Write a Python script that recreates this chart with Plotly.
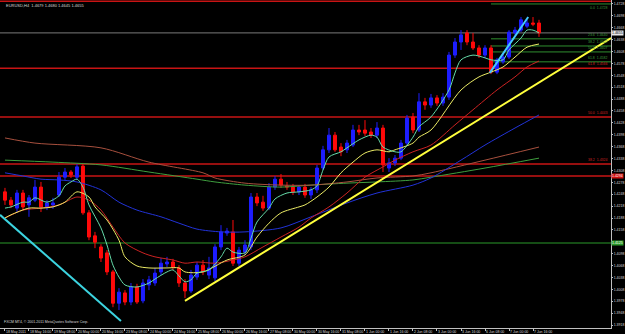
import plotly.graph_objects as go

# ---------------- data (EURUSD H4) ----------------
bar = list(range(90))
opens = [1.4254,1.4233,1.4213,1.4251,1.4221,1.4233,1.4266,1.4216,1.4221,1.4246,
         1.4291,1.4304,1.4291,1.4319,1.4201,1.4143,1.4115,1.4100,1.4052,1.3973,
         1.3999,1.3976,1.4014,1.3979,1.4019,1.4024,1.4052,1.4072,1.4077,1.4062,
         1.4024,1.4004,1.4039,1.4069,1.4044,1.4037,1.4115,1.4150,1.4153,1.4074,
         1.4102,1.4115,1.4241,1.4228,1.4213,1.4266,1.4286,1.4269,1.4266,1.4254,
         1.4266,1.4246,1.4259,1.4314,1.4360,1.4397,1.4367,1.4360,1.4372,1.4410,
         1.4410,1.4405,1.4397,1.4415,1.4314,1.4327,1.4339,1.4377,1.4443,1.4410,
         1.4481,1.4473,1.4491,1.4478,1.4493,1.4599,1.4632,1.4655,1.4632,1.4617,
         1.4599,1.4617,1.4556,1.4582,1.4594,1.4655,1.4662,1.4672,1.4680,1.4680]
highs = [1.4264,1.4241,1.4259,1.4259,1.4246,1.4284,1.4279,1.4233,1.4239,1.4304,
         1.4314,1.4309,1.4324,1.4327,1.4208,1.4153,1.4122,1.4107,1.4057,1.4011,
         1.4006,1.4024,1.4022,1.4034,1.4042,1.4062,1.4087,1.4090,1.4085,1.4069,
         1.4034,1.4057,1.4077,1.4082,1.4090,1.4122,1.4170,1.4163,1.4183,1.4115,
         1.4132,1.4251,1.4251,1.4244,1.4276,1.4294,1.4299,1.4279,1.4274,1.4271,
         1.4274,1.4266,1.4322,1.4370,1.4415,1.4405,1.4377,1.4385,1.4423,1.4423,
         1.4435,1.4415,1.4430,1.4423,1.4339,1.4347,1.4385,1.4448,1.4453,1.4503,
         1.4491,1.4501,1.4498,1.4503,1.4607,1.4642,1.4662,1.4662,1.4655,1.4624,
         1.4624,1.4624,1.4592,1.4602,1.4662,1.4670,1.4695,1.4688,1.4695,1.4688]
lows = [1.4221,1.4213,1.4203,1.4208,1.4191,1.4228,1.4203,1.4208,1.4211,1.4241,
        1.4284,1.4289,1.4284,1.4196,1.4132,1.4112,1.4077,1.4044,1.3963,1.3956,
        1.3968,1.3968,1.3971,1.3973,1.4006,1.4017,1.4044,1.4064,1.4057,1.4014,
        1.3986,1.3999,1.4032,1.4044,1.4034,1.4029,1.4107,1.4143,1.4067,1.4067,
        1.4095,1.4107,1.4218,1.4206,1.4208,1.4259,1.4264,1.4259,1.4246,1.4246,
        1.4239,1.4236,1.4251,1.4309,1.4352,1.4355,1.4344,1.4352,1.4367,1.4397,
        1.4395,1.4390,1.4390,1.4304,1.4304,1.4319,1.4334,1.4370,1.4402,1.4405,
        1.4461,1.4466,1.4471,1.4471,1.4486,1.4592,1.4612,1.4624,1.4612,1.4592,
        1.4592,1.4551,1.4551,1.4577,1.4589,1.4650,1.4657,1.4667,1.4672,1.4645]
closes = [1.4233,1.4221,1.4251,1.4216,1.4239,1.4266,1.4216,1.4226,1.4226,1.4291,
          1.4304,1.4297,1.4317,1.4201,1.4140,1.4127,1.4087,1.4052,1.3973,1.4001,
          1.3976,1.4014,1.3976,1.4024,1.4032,1.4049,1.4074,1.4077,1.4064,1.4024,
          1.4004,1.4044,1.4069,1.4052,1.4062,1.4115,1.4153,1.4155,1.4074,1.4107,
          1.4120,1.4241,1.4226,1.4213,1.4266,1.4286,1.4271,1.4266,1.4254,1.4266,
          1.4246,1.4259,1.4314,1.4360,1.4397,1.4360,1.4355,1.4377,1.4410,1.4405,
          1.4402,1.4397,1.4415,1.4322,1.4327,1.4339,1.4377,1.4440,1.4410,1.4481,
          1.4473,1.4491,1.4478,1.4493,1.4599,1.4632,1.4650,1.4632,1.4617,1.4599,
          1.4617,1.4556,1.4587,1.4594,1.4657,1.4662,1.4688,1.4680,1.4677,1.4655]

# moving averages (bar index, price)
ma_fast_x = [0,1,3,4,5,7,9,10,11,12,13,14,16,17,18,19,20,22,24,25,27,28,29,30,31,32,34,36,37,38,
             40,41,42,44,45,47,49,51,52,53,54,56,57,59,61,62,63,65,66,68,69,71,74,75,76,78,80,81,
             83,84,86,87,88,89]
ma_fast_y = [1.4213,1.4216,1.4228,1.4228,1.4239,1.4228,1.4244,1.4269,1.4279,1.4286,1.4266,1.4221,
             1.4163,1.4120,1.4069,1.4039,1.4019,1.4014,1.4024,1.4034,1.4052,1.4057,1.4042,1.4027,
             1.4032,1.4049,1.4057,1.4090,1.4112,1.4102,1.4100,1.4137,1.4178,1.4213,1.4236,1.4251,
             1.4254,1.4259,1.4269,1.4309,1.4342,1.4355,1.4365,1.4385,1.4397,1.4392,1.4367,1.4355,
             1.4355,1.4392,1.4418,1.4443,1.4511,1.4554,1.4587,1.4599,1.4592,1.4587,1.4587,1.4612,
             1.4642,1.4662,1.4662,1.4655]
ma_yel_x = [0,1,4,6,8,10,12,14,15,17,19,20,22,24,27,29,30,33,37,40,42,44,46,49,50,52,54,56,58,
            60,62,64,65,68,69,71,76,79,81,83,85,87,89]
ma_yel_y = [1.4188,1.4196,1.4213,1.4213,1.4216,1.4228,1.4254,1.4241,1.4216,1.4183,1.4132,1.4090,
            1.4067,1.4062,1.4062,1.4062,1.4052,1.4052,1.4082,1.4095,1.4140,1.4175,1.4201,1.4216,
            1.4221,1.4241,1.4266,1.4302,1.4329,1.4352,1.4360,1.4355,1.4360,1.4377,1.4392,1.4410,
            1.4511,1.4544,1.4556,1.4569,1.4594,1.4619,1.4627]
ma_red_x = [0,3,6,9,12,14,16,18,20,23,25,28,30,32,35,38,40,43,46,49,51,54,57,60,63,65,68,71,
            75,78,82,85,87,89]
ma_red_y = [1.4188,1.4208,1.4213,1.4221,1.4241,1.4233,1.4208,1.4165,1.4125,1.4100,1.4090,1.4082,
            1.4074,1.4077,1.4074,1.4082,1.4090,1.4115,1.4140,1.4165,1.4188,1.4216,1.4251,1.4291,
            1.4317,1.4334,1.4355,1.4372,1.4423,1.4461,1.4511,1.4544,1.4569,1.4584]
ma_blue_x = [0,3,6,9,12,16,19,22,26,29,32,36,40,46,51,57,62,68,71,76,80,85,89]
ma_blue_y = [1.4302,1.4294,1.4286,1.4284,1.4279,1.4259,1.4228,1.4208,1.4191,1.4175,1.4160,1.4153,
             1.4153,1.4163,1.4191,1.4226,1.4251,1.4271,1.4289,1.4334,1.4372,1.4415,1.4448]
ma_brown_x = [0,5,16,24,33,35,40,46,51,57,62,68,71,80,89]
ma_brown_y = [1.4390,1.4377,1.4365,1.4329,1.4302,1.4289,1.4276,1.4271,1.4271,1.4279,1.4289,
              1.4294,1.4302,1.4334,1.4367]
ma_green_x = [0,8,16,24,32,35,40,46,51,57,62,68,71,80,89]
ma_green_y = [1.4334,1.4329,1.4322,1.4304,1.4286,1.4279,1.4271,1.4266,1.4271,1.4276,1.4279,
              1.4284,1.4291,1.4314,1.4339]

# horizontal levels
red_levels = [1.4735, 1.4566, 1.4443, 1.4324, 1.4294]
red_names = ["100.0", "61.8", "50.0", "38.2", ""]
green_level = 1.4125
bid_level = 1.4655
fib2_levels = [1.4728, 1.4640, 1.4622, 1.4607, 1.4582]
fib2_names = ["0.0", "23.6", "38.2", "50.0", "61.8"]
fib2_start = 81

# trend lines (bar, price)
tl_cyan_x = [-0.83, 19.33]
tl_cyan_y = [1.4196, 1.3928]
tl_yellow_x = [30, 101]
tl_yellow_y = [1.3979, 1.4642]
tl_cyan2_x = [80.8, 87.2]
tl_cyan2_y = [1.4554, 1.4695]

# axes
x_tick_bars = list(range(0, 89, 4))
x_tick_labels = ["18 May 2011", "18 May 16:00", "19 May 08:00", "20 May 00:00", "20 May 16:00",
                 "23 May 08:00", "24 May 00:00", "24 May 16:00", "25 May 08:00", "26 May 00:00",
                 "26 May 16:00", "27 May 08:00", "30 May 00:00", "30 May 16:00", "31 May 08:00",
                 "1 Jun 00:00", "1 Jun 16:00", "2 Jun 08:00", "3 Jun 00:00", "3 Jun 16:00",
                 "6 Jun 08:00", "7 Jun 00:00", "7 Jun 16:00"]
# price scale labels (the one hidden under the green level box is left out)
y_tick_vals = [1.4728, 1.4698, 1.4668, 1.4638, 1.4608, 1.4578, 1.4548, 1.4518, 1.4488, 1.4458,
               1.4428, 1.4398, 1.4368, 1.4338, 1.4308, 1.4278, 1.4248, 1.4218, 1.4188, 1.4158,
               1.4098, 1.4068, 1.4038, 1.4008, 1.3978, 1.3948, 1.3918]
title_text = "EURUSD,H4  1.4679 1.4680 1.4645 1.4655"
copyright_text = "FXCM MT4, \u00a9 2001-2011 MetaQuotes Software Corp."

X_RANGE = [-0.83, 101.0]
Y_RANGE = [1.39105, 1.4738]

FONT = "Liberation Sans"
TXT = "#d8d8d8"
FS = 3.5

fig = go.Figure()

for xs, ys, col in [(ma_green_x, ma_green_y, "#3f9f3f"),
                    (ma_brown_x, ma_brown_y, "#a8503e"),
                    (ma_blue_x, ma_blue_y, "#2233d8"),
                    (ma_red_x, ma_red_y, "#cc2222"),
                    (ma_yel_x, ma_yel_y, "#ecec66"),
                    (ma_fast_x, ma_fast_y, "#66dcaa")]:
    fig.add_trace(go.Scatter(x=xs, y=ys, mode="lines",
                             line=dict(color=col, width=1, shape="spline", smoothing=0.8),
                             hoverinfo="skip", showlegend=False))

fig.add_trace(go.Candlestick(
    x=bar, open=opens, high=highs, low=lows, close=closes,
    increasing=dict(line=dict(color="#1e1eff", width=1), fillcolor="#1e1eff"),
    decreasing=dict(line=dict(color="#ff0a0a", width=1), fillcolor="#ff0a0a"),
    whiskerwidth=0, showlegend=False, hoverinfo="skip"))

for xs, ys, col in [(tl_cyan_x, tl_cyan_y, "#3cd4e0"),
                    (tl_yellow_x, tl_yellow_y, "#ffff3c"),
                    (tl_cyan2_x, tl_cyan2_y, "#44c8ff")]:
    fig.add_trace(go.Scatter(x=xs, y=ys, mode="lines", line=dict(color=col, width=2),
                             hoverinfo="skip", showlegend=False))

shapes = []
for lv in red_levels:
    shapes.append(dict(type="line", xref="paper", yref="y", x0=0, x1=1, y0=lv, y1=lv,
                       line=dict(color="#c81414", width=1.5), layer="below"))
shapes.append(dict(type="line", xref="paper", yref="y", x0=0, x1=1, y0=green_level, y1=green_level,
                   line=dict(color="#2a9a2a", width=1.2), layer="below"))
shapes.append(dict(type="line", xref="paper", yref="y", x0=0, x1=1, y0=bid_level, y1=bid_level,
                   line=dict(color="#7a7a7a", width=1), layer="below"))
for lv in fib2_levels:
    shapes.append(dict(type="line", xref="x", yref="y", x0=fib2_start, x1=X_RANGE[1], y0=lv, y1=lv,
                       line=dict(color="#2f8f2f", width=1), layer="below"))

ann = []
ann.append(dict(text=title_text, xref="paper", yref="paper", x=0.006, y=0.998, xanchor="left",
                yanchor="top", showarrow=False, font=dict(family=FONT, size=4, color=TXT)))
ann.append(dict(text=copyright_text, xref="paper", yref="paper", x=0.004, y=0.006, xanchor="left",
                yanchor="bottom", showarrow=False, font=dict(family=FONT, size=FS, color=TXT)))
for lv, nm in zip(red_levels[1:4], red_names[1:4]):
    ann.append(dict(text=f"{nm}  {lv:.4f}", xref="paper", yref="y", x=0.998, y=lv, xanchor="right",
                    yanchor="bottom", showarrow=False, font=dict(family=FONT, size=FS, color="#d02020")))
for i, (lv, nm) in enumerate(zip(fib2_levels, fib2_names)):
    ann.append(dict(text=f"{nm}  {lv:.4f}", xref="paper", yref="y", x=0.998, y=lv, xanchor="right",
                    yanchor="top" if i == 0 else "bottom", showarrow=False,
                    font=dict(family=FONT, size=FS, color="#3a9a3a")))
for lv, bg, fg in [(bid_level, "#e8e8e8", "#000000"), (red_levels[4], "#d01010", "#ffffff"),
                   (green_level, "#2a9a2a", "#ffffff")]:
    ann.append(dict(text=f"{lv:.4f}", xref="paper", yref="y", x=1.0, y=lv, xanchor="left",
                    yanchor="middle", showarrow=False, bgcolor=bg, borderpad=0,
                    font=dict(family=FONT, size=FS, color=fg)))

fig.update_layout(
    width=625, height=334, margin=dict(l=0, r=14, t=0, b=6, autoexpand=False),
    paper_bgcolor="#000000", plot_bgcolor="#000000",
    shapes=shapes, annotations=ann, showlegend=False,
    xaxis=dict(range=X_RANGE, rangeslider=dict(visible=False), showgrid=False, zeroline=False,
               tickvals=x_tick_bars, ticktext=x_tick_labels, ticks="outside", ticklen=2,
               tickangle=0, automargin=False,
               tickcolor="#c0c0c0", ticklabelposition="outside right",
               tickfont=dict(family=FONT, size=FS, color=TXT), showline=True, linecolor="#c0c0c0",
               linewidth=1),
    yaxis=dict(range=Y_RANGE, side="right", showgrid=False, zeroline=False, automargin=False,
               tickvals=y_tick_vals, ticktext=[f"{v:.4f}" for v in y_tick_vals],
               ticks="outside", ticklen=1, tickcolor="#c0c0c0",
               tickfont=dict(family=FONT, size=FS, color=TXT), showline=True, linecolor="#c0c0c0",
               linewidth=1),
)

fig.write_html("out.html")
